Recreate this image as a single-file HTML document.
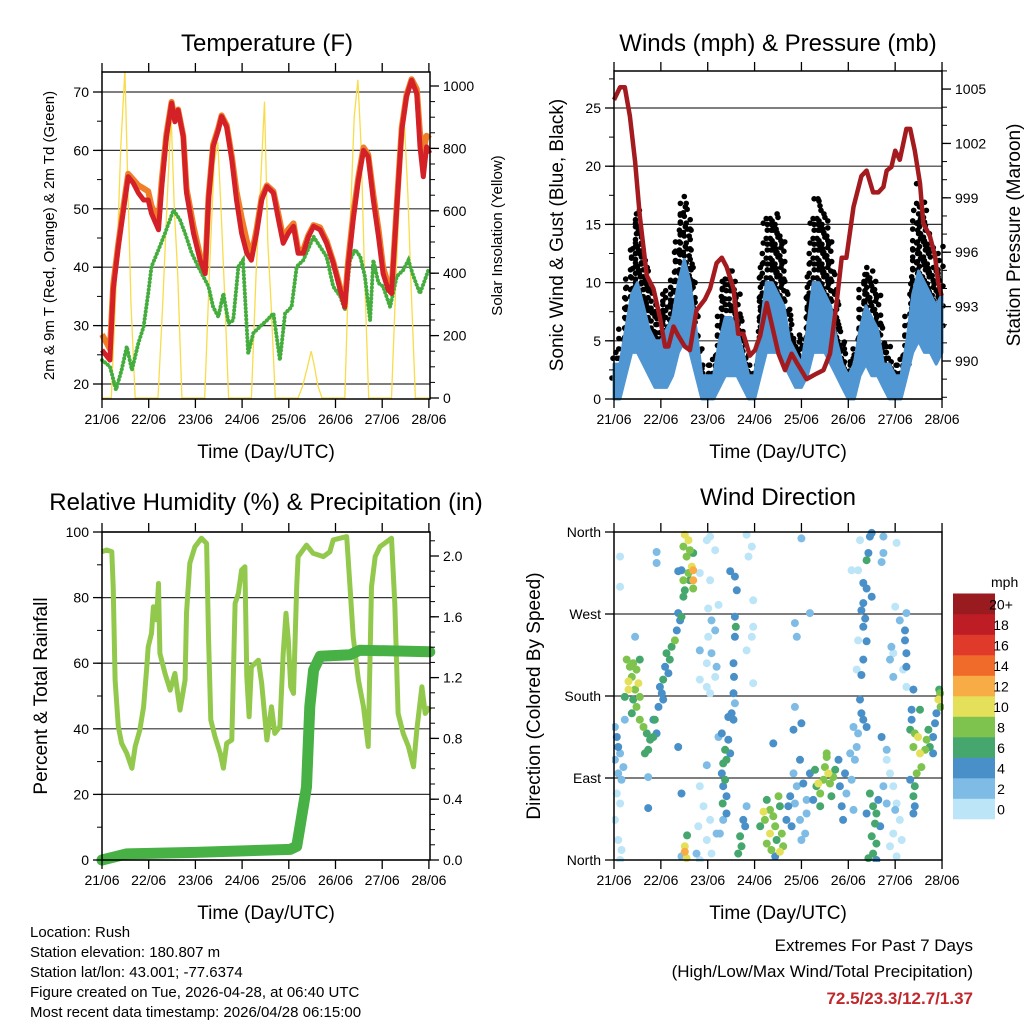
<!DOCTYPE html>
<html><head><meta charset="utf-8"><title>Weather Station Charts</title>
<style>
html,body{margin:0;padding:0;background:#fff;}
svg{display:block;font-family:"Liberation Sans",Arial,sans-serif;}
</style></head>
<body>
<svg id="chart" width="1024" height="1024" viewBox="0 0 1024 1024" xmlns="http://www.w3.org/2000/svg">
<rect x="0" y="0" width="1024" height="1024" fill="#fff"/>
<g id="p1"></g>
<g id="p2"></g>
<g id="p3"></g>
<g id="p4"></g>
<g font-size="15" fill="#000">
<text x="30" y="937">Location: Rush</text>
<text x="30" y="957">Station elevation: 180.807 m</text>
<text x="30" y="977">Station lat/lon: 43.001; -77.6374</text>
<text x="30" y="997">Figure created on Tue, 2026-04-28, at 06:40 UTC</text>
<text x="30" y="1017">Most recent data timestamp: 2026/04/28 06:15:00</text>
</g>
<g text-anchor="end">
<text x="973" y="951" font-size="17">Extremes For Past 7 Days</text>
<text x="973" y="977" font-size="17">(High/Low/Max Wind/Total Precipitation)</text>
<text x="973" y="1004" font-size="17" font-weight="bold" fill="#c0282d">72.5/23.3/12.7/1.37</text>
</g>
</svg>
<script>
// ---------- DATA ----------
const dayLabels = ["21/06","22/06","23/06","24/06","25/06","26/06","27/06","28/06"];
// Temperature (F)
const tempDays = [0,0.17,0.24,0.35,0.46,0.56,0.67,0.78,0.89,0.99,1.06,1.21,1.28,1.38,1.49,1.56,1.63,1.74,1.81,1.96,2.10,2.21,2.28,2.38,2.49,2.56,2.67,2.78,2.88,2.99,3.10,3.20,3.31,3.42,3.53,3.67,3.78,3.88,3.99,4.10,4.20,4.31,4.42,4.53,4.67,4.81,4.95,5.10,5.20,5.27,5.38,5.49,5.60,5.70,5.81,5.92,6.02,6.13,6.20,6.31,6.42,6.52,6.63,6.74,6.81,6.88,6.95,7.02];
const tempRed = [25.8,24.1,36.1,43.5,49.8,55.5,54.4,52.7,51.5,51.5,49.2,46.4,53.8,62.3,68.1,64.9,66.9,62.3,52.7,45.8,41.2,38.9,51.5,60.6,63.5,65.8,64.0,58.4,51.5,45.8,42.4,41.2,45.8,51.5,53.8,52.7,48.1,44.1,45.8,47.0,42.4,42.4,45.2,47.0,46.4,44.1,40.7,36.1,33.2,40.1,48.1,54.9,60.0,58.9,51.5,45.2,38.9,36.1,35.5,49.8,63.5,69.2,72.0,69.7,60.6,55.5,60.6,59.5];
const tempOrange = [28.5,26.0,37.0,44.0,50.5,56.0,55.0,54.0,53.5,53.0,50.5,48.0,55.0,62.8,68.3,65.2,67.0,62.5,53.5,47.0,42.0,39.5,52.0,61.0,63.8,66.0,64.3,59.0,53.0,48.5,44.5,42.0,46.5,52.0,54.0,53.0,49.0,45.0,46.5,47.5,43.0,43.0,45.5,47.2,46.8,44.5,41.0,36.5,33.8,41.0,49.0,55.5,60.5,59.3,52.5,46.5,40.0,37.0,36.0,50.5,64.0,69.5,72.2,70.5,63.0,60.0,62.5,62.0];
const dewDays = [0,0.17,0.30,0.42,0.53,0.64,0.78,0.89,0.99,1.06,1.21,1.35,1.53,1.67,1.78,1.92,2.06,2.17,2.28,2.38,2.49,2.60,2.71,2.81,2.92,3.02,3.13,3.24,3.38,3.53,3.67,3.81,3.92,4.06,4.17,4.31,4.53,4.67,4.81,4.95,5.10,5.20,5.31,5.42,5.53,5.63,5.74,5.81,5.92,6.02,6.17,6.31,6.45,6.56,6.67,6.81,6.99];
const dewVals = [24.1,23.0,19.0,22.4,26.4,22.4,27.0,29.8,35.5,40.1,43.0,45.8,49.8,48.1,45.8,42.4,40.1,38.4,36.7,33.2,31.5,35.5,30.4,30.9,40.1,41.2,25.2,28.7,29.8,30.9,32.1,24.1,32.1,33.2,40.1,41.2,45.2,43.5,41.8,36.7,35.0,32.7,41.2,43.0,41.8,38.4,30.9,41.2,37.3,36.7,33.2,38.4,39.5,41.2,38.4,35.5,39.5];
const solarDays = [0,0.20,0.30,0.40,0.49,0.55,0.62,0.71,1.20,1.30,1.40,1.48,1.55,1.62,1.71,2.20,2.30,2.40,2.48,2.55,2.62,2.71,3.20,3.30,3.40,3.48,3.55,3.62,3.71,4.20,4.30,4.40,4.48,4.55,4.62,4.71,5.20,5.30,5.40,5.48,5.55,5.62,5.71,6.20,6.30,6.40,6.48,6.55,6.62,6.71,7.0];
const solarVals = [0,0,350,800,1050,700,300,0,0,300,650,905,600,400,0,0,400,750,820,600,350,0,0,400,700,950,500,300,0,0,40,100,150,100,40,0,0,500,900,1020,800,400,0,0,400,750,870,650,350,0,0];
// Wind (mph) & pressure (mb)
const windTimes = [0,0.125,0.25,0.375,0.5,0.625,0.75,0.875,1,1.125,1.25,1.375,1.5,1.625,1.75,1.875,2,2.125,2.25,2.375,2.5,2.625,2.75,2.875,3,3.125,3.25,3.375,3.5,3.625,3.75,3.875,4,4.125,4.25,4.375,4.5,4.625,4.75,4.875,5,5.125,5.25,5.375,5.5,5.625,5.75,5.875,6,6.125,6.25,6.375,6.5,6.625,6.75,6.875,7];
const windHigh = [3,3,6,9,10,8,6,5,5,6,7,10,12,10,6,2,2,2,5,7,7,6,4,2,2,6,10,10,9,8,5,4,3,6,10,10,9,8,5,3,2,3,6,8,7,6,3,3,2,2,5,9,11,10,9,8,9];
const windLow = [0,0,2,4,4,3,2,1,1,1,2,4,5,4,2,0,0,0,1,2,2,2,1,0,0,2,4,4,4,3,2,1,1,2,4,4,4,3,2,1,0,0,2,3,2,2,1,0,0,0,2,4,5,4,4,3,4];
const gustVals = [5,6,10,15,17,14,11,9,9,10,11,16,19,16,10,4,3,4,9,12,12,10,7,4,4,11,16,17,16,15,8,7,6,10,17,18,17,15,10,6,4,5,10,13,12,10,6,5,4,4,9,15,19,17,14,12,15];
const presDays = [0,0.13,0.23,0.34,0.45,0.55,0.70,0.84,0.98,1.09,1.16,1.27,1.37,1.51,1.62,1.76,1.94,2.05,2.19,2.30,2.40,2.55,2.65,2.76,2.90,3.01,3.12,3.26,3.36,3.51,3.65,3.79,3.90,4.11,4.32,4.47,4.61,4.75,4.86,4.96,5.11,5.28,5.39,5.53,5.64,5.75,5.82,5.92,6.00,6.10,6.24,6.32,6.42,6.53,6.60,6.74,6.85,6.92,6.99];
const presVals = [1004.4,1005.1,1005.1,1003.5,1001.0,998.0,994.7,994.0,992.4,990.8,990.8,991.9,991.4,990.8,990.6,992.8,993.4,994.0,995.4,995.7,995.2,994.0,991.5,991.5,990.3,990.6,991.4,993.2,992.1,990.4,989.5,990.4,989.9,989.0,989.3,989.5,990.4,993.2,995.7,995.7,998.5,1000.2,1000.5,999.3,999.3,999.6,1000.5,1000.7,1001.6,1001.1,1002.8,1002.8,1001.6,999.8,997.6,996.9,995.8,994.3,993.6];
// Relative humidity (%) and precipitation (in)
const rhDays = [0,0.10,0.21,0.24,0.28,0.35,0.42,0.53,0.64,0.71,0.81,0.89,0.96,0.99,1.06,1.10,1.17,1.21,1.24,1.35,1.46,1.56,1.67,1.78,1.81,1.88,1.99,2.13,2.24,2.28,2.33,2.42,2.53,2.60,2.67,2.78,2.85,2.92,2.99,3.06,3.10,3.15,3.20,3.35,3.42,3.53,3.63,3.70,3.81,3.88,3.94,3.99,4.04,4.10,4.17,4.20,4.38,4.52,4.74,4.88,4.95,5.24,5.31,5.38,5.49,5.60,5.70,5.77,5.85,5.95,6.20,6.27,6.34,6.45,6.56,6.67,6.74,6.85,6.92,7.02];
const rhVals = [94.0,94.5,94.0,83.3,54.9,40.7,35.6,32.5,28.0,34.6,39.6,46.7,58.9,65.0,69.1,77.2,73.2,84.3,63.0,56.9,51.8,56.9,45.7,54.9,75.2,90.5,95.5,98.1,96.5,68.1,42.7,37.6,32.5,28.0,35.6,36.6,78.2,81.3,88.4,89.4,55.9,43.7,58.9,60.9,53.8,36.6,46.7,38.6,40.7,63.0,75.2,67.1,52.8,50.8,83.3,92.5,96.0,93.5,92.5,94.0,97.6,98.6,83.3,68.1,54.9,46.7,34.6,83.3,92.5,95.5,98.1,78.2,44.7,38.6,34.6,28.4,39.6,52.8,44.7,46.7];
const precipDays = [0,0.53,2.0,4.03,4.17,4.24,4.38,4.45,4.53,4.67,5.31,5.52,7.02];
const precipVals = [0,0.04,0.05,0.07,0.09,0.22,0.48,1.01,1.25,1.34,1.35,1.38,1.37];
// Wind direction (deg) colored by speed (mph)
const dirDay = [0.27,0.34,0.41,0.48,0.55,0.31,0.52,0.38,0.45,0.31,0.23,0.41,0.48,0.55,0.38,0.55,0.63,0.70,0.77,0.73,0.84,0.87,0.91,0.66,
0.95,1.02,1.05,0.98,1.09,1.12,1.19,1.23,1.30,1.34,1.41,1.37,1.44,1.16,1.05,0.84,
1.51,1.59,1.62,1.48,1.55,1.69,1.66,1.59,1.69,1.48,1.62,1.69,1.51,1.69,1.44,1.37,1.48,
2.05,1.98,2.16,1.83,2.05,2.01,2.23,2.08,2.16,2.01,1.83,2.08,1.98,2.19,2.16,1.98,1.83,2.05,2.83,2.94,2.87,2.97,2.97,2.94,2.83,2.97,0.13,0.13,0.91,0.91,0.45,
2.58,2.62,2.48,2.58,2.60,2.58,2.55,2.56,2.55,2.58,2.51,2.44,2.55,2.44,
2.30,2.37,2.33,2.40,2.30,2.37,2.33,2.40,2.32,2.40,2.33,2.23,2.26,2.48,
1.51,1.51,1.56,1.55,1.44,
1.83,1.91,1.80,1.98,2.08,1.83,2.19,1.98,2.05,1.76,
2.69,2.76,2.72,2.65,2.80,2.83,
3.19,3.26,3.33,3.40,3.51,3.54,3.22,3.33,3.44,3.58,3.47,3.61,3.54,3.36,3.26,3.44,3.68,3.72,3.76,3.12,
3.83,3.90,3.86,3.97,4.04,4.11,4.18,3.97,4.11,4.08,4.25,3.79,4.00,3.86,3.83,4.00,3.40,3.90,4.18,3.86,4.00,
4.29,4.36,4.40,4.47,4.50,4.54,4.57,4.61,4.68,4.72,4.40,4.32,4.64,4.54,
4.79,4.82,4.86,4.93,4.89,4.96,5.07,5.11,5.04,5.18,5.14,
5.46,5.43,5.50,5.39,5.25,5.21,5.32,5.39,5.50,5.32,5.28,5.36,5.32,5.21,5.39,5.32,5.28,5.18,5.25,5.28,5.32,5.39,5.21,5.11,5.07,5.75,5.75,5.71,
5.46,5.53,5.60,5.57,5.50,5.60,5.53,5.43,5.64,5.68,5.39,5.60,5.75,5.82,
5.82,5.89,5.96,6.03,6.10,5.96,5.89,6.03,6.14,6.00,5.82,5.71,5.89,5.96,5.92,6.00,6.03,5.96,6.10,6.24,6.17,6.24,
6.21,6.21,6.24,6.24,6.39,6.35,6.35,6.32,6.42,6.49,6.39,6.53,6.56,6.46,6.42,6.39,6.32,6.42,6.39,6.53,
6.64,6.67,6.71,6.74,6.81,6.85,6.88,6.92,6.96,6.97,6.94,6.81,
0.02,0.06,0.09,0.13,0.02,0.09,0.16,0.06,0.13,0.02,0.09,0.16,0.13,0.20,0.23,0.73,0.73,1.37,1.44];
const dirDeg = [220,212,216,209,220,196,194,201,187,187,179,176,168,179,161,154,146,139,132,121,135,154,139,117,
168,183,198,190,212,227,220,234,241,252,263,271,267,205,176,154,
357,351,340,344,333,337,322,315,318,307,307,307,296,298,318,317,289,
355,351,340,315,307,276,280,263,252,245,230,227,216,212,201,190,198,183,357,344,333,285,256,245,230,194,333,300,338,326,245,
311,296,317,267,256,245,216,201,183,172,161,157,154,132,
139,121,106,110,95,88,81,70,62,51,44,135,29,117,
9,15,27,2,4,
81,59,37,22,7,0,29,104,44,7,
26,44,15,7,37,59,
53,66,55,48,70,59,44,29,37,29,22,15,9,11,18,4,44,59,70,37,
95,81,62,110,84,66,95,44,51,29,66,37,22,168,143,150,128,245,271,260,353,
99,84,73,88,102,113,95,84,91,99,59,81,70,117,
110,81,59,95,44,73,88,55,117,124,110,
355,337,359,329,351,318,304,298,289,282,274,265,256,241,240,220,203,209,176,161,154,146,139,146,318,355,337,327,
73,59,51,40,26,18,7,2,66,37,51,0,81,62,
110,95,81,62,44,29,15,4,22,55,121,135,220,227,234,278,348,201,263,271,209,190,
252,241,227,212,187,165,154,143,139,135,124,117,102,95,81,70,88,59,51,165,
121,132,143,124,135,150,161,176,183,168,187,117,
146,135,124,117,110,95,88,73,62,44,22,11,0,102,154,91,57,124,73];
const dirSpd = [8,8,8,8,6,10,10,8,8,10,6,6,8,8,6,8,8,6,6,6,6,6,4,6,
4,4,6,4,4,6,6,6,8,4,4,4,6,4,4,4,
10,10,8,8,8,6,10,8,12,8,6,12,6,8,4,4,6,
0,0,0,0,0,0,0,2,2,0,2,2,0,2,0,0,0,0,0,0,0,0,0,0,0,0,0,0,2,2,2,
4,4,4,4,6,4,4,4,4,2,4,4,4,4,
4,6,6,6,4,6,4,4,6,4,2,2,2,4,
12,10,6,10,2,
0,0,0,0,0,0,2,2,0,2,
6,4,6,6,4,2,
10,6,8,8,8,6,8,10,8,8,6,8,10,8,8,4,4,4,4,6,
2,2,2,4,4,2,4,2,2,2,4,4,2,2,4,4,4,2,2,2,2,
6,10,8,8,8,8,10,8,8,6,6,6,6,8,
4,4,4,4,4,2,2,2,2,2,2,
4,4,4,6,0,0,4,4,4,4,4,4,4,0,4,4,4,0,4,4,4,4,2,2,0,2,2,2,
6,6,6,6,6,6,6,6,4,4,4,4,2,2,
0,0,0,0,0,0,0,0,0,2,2,4,2,0,2,0,0,2,2,2,0,0,
4,4,4,4,4,4,4,6,8,10,8,10,8,8,6,6,4,4,4,6,
8,8,6,6,4,4,4,10,8,8,6,4,
2,4,4,2,2,2,2,0,0,0,0,0,0,2,2,2,4,4,4];
const speedLabels = ["0","2","4","6","8","10","12","14","16","18","20+"];
const speedColors = ["#bde5f8","#7ebce6","#4a90c8","#46a76e","#7dc34e","#e5e05a","#f7ac45","#f06a2a","#e03a2b","#bf1d26","#991a1f"];

// ---------- AXIS FUNCTIONS ----------
const NS = "http://www.w3.org/2000/svg";
const xA = d => 102 + d * 46.7;
const xB = d => 614 + d * 46.86;
const yTemp = v => 384 - (v - 20) * 5.84;
const ySolar = v => 398 - v * 0.312;
const yWind = v => 399 - v * 11.64;
const yPres = v => 361 - (v - 990) * 18.13;
const yRH = v => 860 - v * 3.28;
const yPrecip = v => 860 - v * 152;
const yDir = v => 860 - v * 328 / 360;

function el(parent, tag, attrs, text) {
  const e = document.createElementNS(NS, tag);
  for (const k in attrs) e.setAttribute(k, attrs[k]);
  if (text !== undefined) e.textContent = text;
  parent.appendChild(e);
  return e;
}
function pts(days, vals, fx, fy) {
  return days.map((d, i) => fx(d).toFixed(1) + "," + fy(vals[i]).toFixed(1)).join(" ");
}
function frame(g, o) {
  o.grid.forEach(v => {
    const gl = el(g, "line", {x1:o.x0, x2:o.x1, y1:o.fy(v), y2:o.fy(v), stroke:"#333", "stroke-width":1.2});
    
    
  });
}
function axes(g, o) {
  const box = el(g, "rect", {x:o.x0, y:o.y0, width:o.x1-o.x0, height:o.y1-o.y0, fill:"none", stroke:"#000", "stroke-width":1.5});
  
  
  dayLabels.forEach((lab, i) => {
    const x = o.fx(i);
    el(g, "line", {x1:x, x2:x, y1:o.y1, y2:o.y1+9, stroke:"#000", "stroke-width":1.3});
    el(g, "line", {x1:x, x2:x, y1:o.y0, y2:o.y0-9, stroke:"#000", "stroke-width":1.3});
    const t = el(g, "text", {x:x, y:o.y1+25, "font-size":14, "text-anchor":"middle"}, lab);
    
    
  });
  const xt = el(g, "text", {x:(o.x0+o.x1)/2, y:o.y1+59, "font-size":19, "text-anchor":"middle"}, "Time (Day/UTC)");
  
  
  o.lMinor.forEach(v => el(g, "line", {x1:o.x0-5, x2:o.x0, y1:o.fy(v), y2:o.fy(v), stroke:"#000", "stroke-width":1}));
  o.lMajor.forEach((v, i) => {
    el(g, "line", {x1:o.x0-9, x2:o.x0, y1:o.fy(v), y2:o.fy(v), stroke:"#000", "stroke-width":1.3});
    const t = el(g, "text", {x:o.x0-13, y:o.fy(v)+5, "font-size":14, "text-anchor":"end"}, o.lLabels[i]);
    
    
  });
  if (o.rMajor) {
    o.rMinor.forEach(v => el(g, "line", {x1:o.x1, x2:o.x1+5, y1:o.fr(v), y2:o.fr(v), stroke:"#000", "stroke-width":1}));
    o.rMajor.forEach((v, i) => {
      el(g, "line", {x1:o.x1, x2:o.x1+9, y1:o.fr(v), y2:o.fr(v), stroke:"#000", "stroke-width":1.3});
      const t = el(g, "text", {x:o.x1+13, y:o.fr(v)+5, "font-size":14}, o.rLabels[i]);
      
      
    });
  }
  const tt = el(g, "text", {x:o.titleX, y:o.titleY, "font-size":24, "text-anchor":"middle"}, o.title);
  
  
  const ly = el(g, "text", {x:0, y:0, "font-size":o.lSize, "text-anchor":"middle", transform:`translate(${o.lX},${(o.y0+o.y1)/2}) rotate(-90)`}, o.lTitle);
  
  
  if (o.rTitle) {
    const ry = el(g, "text", {x:0, y:0, "font-size":o.rSize, "text-anchor":"middle", transform:`translate(${o.rX},${(o.y0+o.y1)/2}) rotate(-90)`}, o.rTitle);
    
    
  }
}
function range(a, b, s) { const r = []; for (let v = a; v <= b + 1e-9; v += s) r.push(+v.toFixed(3)); return r; }

// ---------- PANEL 1 ----------
(function(){
  const g = document.getElementById("p1");
  const o = {x0:102,x1:430,y0:72,y1:399,fx:xA,fy:yTemp,fr:ySolar,grid:[20,30,40,50,60,70],
    lMajor:[20,30,40,50,60,70], lLabels:["20","30","40","50","60","70"], lMinor:range(20,70,5),
    rMajor:[0,200,400,600,800,1000], rLabels:["0","200","400","600","800","1000"], rMinor:range(0,1000,50),
    title:"Temperature (F)", titleX:267, titleY:51, lTitle:"2m & 9m T (Red, Orange) & 2m Td (Green)", lX:54, lSize:15,
    rTitle:"Solar Insolation (Yellow)", rX:502, rSize:15};
  frame(g, o);
  const clip = el(g, "clipPath", {id:"c1"}); el(clip, "rect", {x:102,y:72,width:328,height:327});
  const s = el(g, "polyline", {points:pts(solarDays, solarVals, xA, ySolar), fill:"none", stroke:"#f8dc4a", "stroke-width":1.3, "clip-path":"url(#c1)"});
  
  
  const d = el(g, "polyline", {points:pts(dewDays, dewVals, xA, yTemp), fill:"none", stroke:"#44ad3d", "stroke-width":4, "stroke-dasharray":"0.1 3.6", "stroke-linecap":"round"});
  
  
  const or = el(g, "polyline", {points:pts(tempDays, tempOrange, xA, yTemp), fill:"none", stroke:"#f07e28", "stroke-width":6, "stroke-linejoin":"round"});
  
  
  const r = el(g, "polyline", {points:pts(tempDays, tempRed, xA, yTemp), fill:"none", stroke:"#d42127", "stroke-width":5, "stroke-linejoin":"round"});
  
  
  axes(g, o);
})();

// ---------- PANEL 2 ----------
(function(){
  const g = document.getElementById("p2");
  const o = {x0:614,x1:942,y0:71,y1:399,fx:xB,fy:yWind,fr:yPres,grid:[0,5,10,15,20,25],
    lMajor:[0,5,10,15,20,25], lLabels:["0","5","10","15","20","25"], lMinor:range(0,27.5,2.5),
    rMajor:[990,993,996,999,1002,1005], rLabels:["990","993","996","999","1002","1005"], rMinor:range(988,1006,1),
    title:"Winds (mph) & Pressure (mb)", titleX:778, titleY:51, lTitle:"Sonic Wind & Gust (Blue, Black)", lX:563, lSize:19,
    rTitle:"Station Pressure (Maroon)", rX:1020, rSize:19};
  frame(g, o);
  const gustG = el(g, "g", {fill:"#000"});
  
  
  for (let i = 0; i < windTimes.length - 1; i++) {
    for (let k = 0; k < 6; k++) {
      const f = k / 6;
      const t = windTimes[i] + (windTimes[i+1]-windTimes[i]) * f;
      const gv = gustVals[i] + (gustVals[i+1]-gustVals[i]) * f;
      const hv = windHigh[i] + (windHigh[i+1]-windHigh[i]) * f;
      const lo = Math.max(0.5, hv * 0.6);
      const top = gv - ((i * 5 + k * 3) % 4) * 0.5;
      for (let v = lo + ((k % 3) * 0.5); v <= top; v += 1.7) {
        const c = el(gustG, "circle", {cx:(xB(t) + ((k*7 + Math.round(v*3)) % 5) - 2).toFixed(1), cy:yWind(v).toFixed(1), r:2.8});
        
        
      }
    }
  }
  const upper = windTimes.map((t,i)=>xB(t).toFixed(1)+","+yWind(windHigh[i]).toFixed(1));
  const lower = windTimes.map((t,i)=>xB(t).toFixed(1)+","+yWind(windLow[i]).toFixed(1)).reverse();
  const a = el(g, "polygon", {points:upper.concat(lower).join(" "), fill:"#4f96d2", stroke:"#4f96d2", "stroke-width":3, "stroke-linejoin":"round"});
  
  
  const p = el(g, "polyline", {points:pts(presDays, presVals, xB, yPres), fill:"none", stroke:"#a31b1e", "stroke-width":4.5, "stroke-linejoin":"round"});
  
  
  axes(g, o);
})();

// ---------- PANEL 3 ----------
(function(){
  const g = document.getElementById("p3");
  const o = {x0:102,x1:430,y0:532,y1:860,fx:xA,fy:yRH,fr:yPrecip,grid:[0,20,40,60,80,100],
    lMajor:[0,20,40,60,80,100], lLabels:["0","20","40","60","80","100"], lMinor:range(0,100,10),
    rMajor:[0,0.4,0.8,1.2,1.6,2.0], rLabels:["0.0","0.4","0.8","1.2","1.6","2.0"], rMinor:range(0,2.1,0.1),
    title:"Relative Humidity (%) & Precipitation (in)", titleX:266, titleY:510, lTitle:"Percent & Total Rainfall", lX:47, lSize:19};
  frame(g, o);
  const r = el(g, "polyline", {points:pts(rhDays, rhVals, xA, yRH), fill:"none", stroke:"#92c94c", "stroke-width":5, "stroke-linejoin":"round"});
  
  
  const p = el(g, "polyline", {points:pts(precipDays, precipVals, xA, yPrecip), fill:"none", stroke:"#48b145", "stroke-width":11, "stroke-linejoin":"round", "stroke-linecap":"round"});
  
  
  axes(g, o);
})();

// ---------- PANEL 4 ----------
(function(){
  const g = document.getElementById("p4");
  const o = {x0:614,x1:942,y0:532,y1:860,fx:xB,fy:yDir,grid:[90,180,270],
    lMajor:[0,90,180,270,360], lLabels:["North","East","South","West","North"], lMinor:[],
    title:"Wind Direction", titleX:778, titleY:505, lTitle:"Direction (Colored By Speed)", lX:540, lSize:19};
  frame(g, o);
  const clip = el(g, "clipPath", {id:"c4"}); el(clip, "rect", {x:612,y:528,width:332,height:334});
  const sg = el(g, "g", {"clip-path":"url(#c4)"});
  
  
  const order = dirDay.map((_, i) => i).sort((a, b) => dirSpd[a] - dirSpd[b]);
  order.forEach(i => {
    const bin = Math.min(10, Math.floor(dirSpd[i] / 2));
    const c = el(sg, "circle", {cx:xB(dirDay[i]).toFixed(1), cy:yDir(dirDeg[i]).toFixed(1), r:4, fill:speedColors[bin]});
    
    
  });
  axes(g, o);
  const cb = el(g, "g", {});
  
  
  const ct = el(cb, "text", {x:991, y:587, "font-size":14, "text-anchor":"start"}, "mph");
  
  
  speedLabels.forEach((lab, i) => {
    const y = 819 - (i + 1) * 20.5;
    const r = el(cb, "rect", {x:953, y:y.toFixed(1), width:42, height:20.8, fill:speedColors[i]});
    
    
    const t = el(cb, "text", {x:1001, y:(y + 16).toFixed(1), "font-size":14, "text-anchor":"middle"}, lab);
    
    
  });
})();
</script>
</body></html>
